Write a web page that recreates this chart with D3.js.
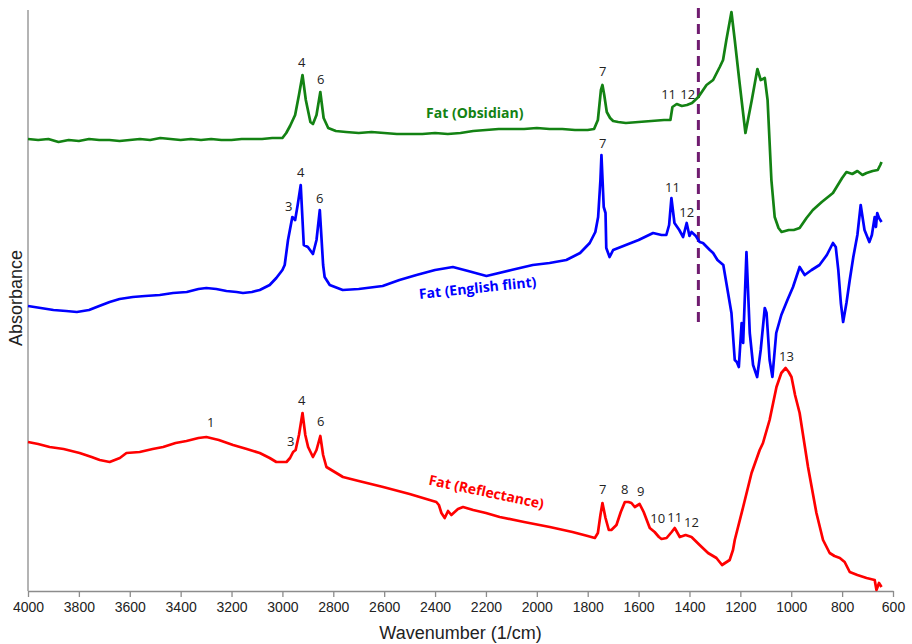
<!DOCTYPE html>
<html>
<head>
<meta charset="utf-8">
<script src="https://cdn.jsdelivr.net/npm/d3@7"></script>
<style>
  body { margin: 0; background: #fff; }
  svg { display: block; }
</style>
</head>
<body>
<div id="chart"></div>
<script>
// wavenumber (1/cm) / absorbance (offset, arbitrary units)
const obsidianWave = [4000,3960,3920,3880,3840,3800,3760,3720,3680,3640,3600,3560,3520,3480,3440,3400,3360,3320,3280,3240,3200,3160,3120,3080,3040,3000,2985,2970,2950,2935,2921,2908,2890,2880,2866,2851,2838,2820,2790,2750,2700,2650,2600,2550,2500,2450,2400,2350,2300,2250,2200,2150,2100,2050,2000,1950,1900,1850,1800,1775,1760,1748,1742,1735,1725,1712,1700,1680,1650,1600,1550,1500,1475,1467,1450,1430,1410,1390,1365,1333,1307,1281,1268,1255,1235,1222,1203,1180,1155,1133,1120,1104,1093,1078,1065,1050,1038,1010,990,967,940,915,880,836,800,783,760,740,720,704,680,660,650,645];
const obsidianAbs = [4.52,4.51,4.52,4.49,4.51,4.50,4.52,4.51,4.51,4.50,4.51,4.52,4.51,4.53,4.52,4.51,4.52,4.51,4.52,4.51,4.51,4.52,4.52,4.52,4.53,4.53,4.58,4.65,4.76,4.96,5.16,4.91,4.69,4.67,4.76,4.99,4.73,4.63,4.60,4.59,4.58,4.59,4.58,4.57,4.57,4.57,4.58,4.57,4.58,4.60,4.61,4.62,4.62,4.62,4.63,4.62,4.62,4.61,4.61,4.62,4.71,5.01,5.06,4.96,4.79,4.73,4.70,4.69,4.68,4.69,4.70,4.71,4.71,4.84,4.87,4.85,4.86,4.88,4.94,5.06,5.11,5.24,5.31,5.51,5.79,5.51,5.08,4.58,4.91,5.22,5.11,5.13,4.91,4.11,3.74,3.63,3.59,3.61,3.61,3.63,3.73,3.81,3.89,3.98,4.13,4.19,4.17,4.20,4.16,4.18,4.20,4.21,4.26,4.29];

const flintWave = [4000,3950,3900,3850,3808,3760,3720,3679,3640,3588,3540,3482,3430,3376,3330,3299,3260,3220,3180,3155,3120,3089,3050,3024,3000,2991,2978,2961,2950,2940,2928,2916,2900,2880,2866,2853,2840,2834,2814,2763,2700,2606,2540,2473,2400,2330,2270,2198,2100,2016,1950,1884,1830,1792,1770,1759,1750,1746,1737,1730,1727,1714,1700,1650,1600,1543,1510,1491,1480,1471,1459,1440,1425,1411,1400,1392,1375,1360,1347,1320,1307,1290,1267,1255,1235,1222,1214,1206,1195,1189,1176,1163,1150,1134,1120,1104,1097,1085,1074,1059,1039,1015,993,967,947,920,889,860,836,825,815,805,796,783,770,756,740,727,712,693,683,672,667,662,655,645];
const flintAbs = [2.85,2.83,2.81,2.80,2.79,2.81,2.85,2.89,2.92,2.94,2.95,2.96,2.98,2.99,3.02,3.03,3.02,3.00,2.99,2.98,2.99,3.01,3.06,3.13,3.21,3.26,3.51,3.74,3.71,3.86,4.06,3.46,3.44,3.37,3.51,3.81,3.26,3.14,3.06,3.01,3.02,3.05,3.11,3.16,3.21,3.24,3.20,3.15,3.21,3.26,3.28,3.31,3.38,3.48,3.59,3.74,4.11,4.36,3.84,3.78,3.43,3.34,3.41,3.46,3.51,3.58,3.56,3.56,3.66,3.93,3.68,3.61,3.54,3.68,3.55,3.59,3.55,3.49,3.48,3.41,3.38,3.31,3.26,3.08,2.78,2.31,2.29,2.24,2.68,2.48,3.39,2.58,2.26,2.14,2.41,2.83,2.78,2.31,2.14,2.58,2.76,2.91,3.04,3.24,3.16,3.21,3.26,3.36,3.48,3.44,3.21,2.88,2.69,2.88,3.11,3.34,3.56,3.86,3.61,3.49,3.56,3.74,3.64,3.78,3.73,3.69];

const reflWave = [4000,3960,3915,3860,3797,3750,3718,3679,3639,3613,3561,3510,3469,3420,3377,3330,3299,3250,3194,3140,3089,3050,3024,2984,2970,2958,2948,2935,2921,2910,2899,2880,2866,2851,2840,2827,2762,2700,2604,2500,2395,2385,2375,2362,2349,2336,2310,2290,2250,2200,2146,2050,1949,1860,1800,1772,1760,1750,1742,1730,1717,1707,1687,1670,1654,1640,1628,1615,1596,1580,1556,1537,1520,1510,1490,1470,1458,1438,1415,1392,1360,1327,1294,1272,1242,1229,1222,1189,1156,1124,1111,1085,1058,1039,1022,1010,999,985,967,934,901,875,849,830,809,790,770,740,704,672,665,655,645];
const reflAbs = [1.49,1.47,1.44,1.42,1.38,1.34,1.31,1.29,1.33,1.38,1.39,1.42,1.44,1.48,1.50,1.53,1.54,1.51,1.46,1.42,1.38,1.33,1.29,1.29,1.33,1.39,1.41,1.56,1.78,1.56,1.44,1.34,1.41,1.55,1.36,1.24,1.14,1.10,1.04,0.97,0.89,0.86,0.78,0.73,0.80,0.76,0.82,0.84,0.81,0.78,0.74,0.69,0.64,0.59,0.55,0.53,0.58,0.76,0.88,0.73,0.61,0.61,0.66,0.79,0.89,0.89,0.88,0.84,0.87,0.79,0.63,0.59,0.54,0.52,0.53,0.59,0.63,0.54,0.56,0.54,0.46,0.38,0.33,0.26,0.31,0.41,0.51,0.84,1.18,1.41,1.48,1.71,2.04,2.18,2.23,2.19,2.14,1.96,1.78,1.24,0.78,0.51,0.38,0.35,0.33,0.29,0.19,0.16,0.13,0.11,0.01,0.08,0.04];

const xTicks = [4000,3800,3600,3400,3200,3000,2800,2600,2400,2200,2000,1800,1600,1400,1200,1000,800,600];

// peak number labels: text, wavenumber, absorbance
const peakLabels = [
  ["4",2924,5.29],["6",2849,5.12],["7",1741,5.20],["11",1482,4.97],["12",1407,4.97],
  ["3",2975,3.85],["4",2928,4.19],["6",2853,3.93],["7",1741,4.48],["11",1467,4.04],["12",1411,3.79],
  ["1",3282,1.69],["3",2967,1.50],["4",2924,1.91],["6",2849,1.70],["7",1741,1.02],["8",1655,1.02],
  ["9",1592,1.00],["10",1525,0.73],["11",1458,0.74],["12",1392,0.69],["13",1019,2.35]
];

const seriesNames = ["Fat (Obsidian)", "Fat (English flint)", "Fat (Reflectance)"];
const seriesColors = ["#138213", "#0000ff", "#ff0000"];
// name label anchors: wavenumber, absorbance, rotation
const nameWave = [2244, 2233, 2198];
const nameAbs = [4.78, 3.03, 0.99];
const nameRot = [0, -6, 12];

const markerWave = 1365;
const markerRange = [2.69, 5.83];

const W = 912, H = 644;
const margin = {top: 10, right: 19, bottom: 53, left: 28};

const svg = d3.select("#chart").append("svg")
  .attr("width", W).attr("height", H);

const x = d3.scaleLinear().domain([4000, 600]).range([margin.left, W - margin.right]);
const y = d3.scaleLinear().domain([0, 5.81]).range([H - margin.bottom, margin.top]);

// axes
const xAxis = svg.append("g")
  .attr("transform", "translate(0," + (H - margin.bottom) + ")")
  .call(d3.axisBottom(x).tickValues(xTicks).tickSizeOuter(0).tickSizeInner(6).tickPadding(5).tickFormat(d3.format("d")));
xAxis.select(".domain").attr("stroke", "#8c8c8c").attr("stroke-width", 1.3);
xAxis.selectAll(".tick line").attr("stroke", "#8c8c8c").attr("stroke-width", 1.3);
xAxis.selectAll(".tick text")
  .attr("fill", "#222")
  .style("font-family", "'Liberation Sans', Arial, sans-serif")
  .style("font-size", "14px");

svg.append("line")
  .attr("x1", margin.left).attr("x2", margin.left)
  .attr("y1", margin.top).attr("y2", H - margin.bottom)
  .attr("stroke", "#8c8c8c").attr("stroke-width", 1.3);

svg.append("text")
  .attr("x", (margin.left + W - margin.right) / 2)
  .attr("y", 639)
  .attr("text-anchor", "middle")
  .style("font-family", "'Liberation Sans', Arial, sans-serif")
  .style("font-size", "18px")
  .attr("fill", "#222")
  .text("Wavenumber (1/cm)");

svg.append("text")
  .attr("transform", "translate(22,298) rotate(-90)")
  .attr("text-anchor", "middle")
  .style("font-family", "'Liberation Sans', Arial, sans-serif")
  .style("font-size", "18px")
  .attr("fill", "#222")
  .text("Absorbance");

// dashed marker
svg.append("line")
  .attr("x1", x(markerWave)).attr("x2", x(markerWave))
  .attr("y1", y(markerRange[1])).attr("y2", y(markerRange[0]))
  .attr("stroke", "#701c70").attr("stroke-width", 3)
  .attr("stroke-dasharray", "10,6");

// spectra
const line = d3.line().x(d => x(d[0])).y(d => y(d[1]));
const series = [
  d3.zip(obsidianWave, obsidianAbs),
  d3.zip(flintWave, flintAbs),
  d3.zip(reflWave, reflAbs)
];
series.forEach((pts, i) => {
  svg.append("path")
    .datum(pts)
    .attr("fill", "none")
    .attr("stroke", seriesColors[i])
    .attr("stroke-width", 2.7)
    .attr("stroke-linejoin", "round")
    .attr("d", line);
});

// series names
seriesNames.forEach((name, i) => {
  svg.append("text")
    .attr("transform", "translate(" + x(nameWave[i]) + "," + y(nameAbs[i]) + ") rotate(" + nameRot[i] + ")")
    .attr("text-anchor", "middle")
    .attr("dy", "0.35em")
    .style("font-family", "'Open Sans', sans-serif")
    .style("font-weight", "bold")
    .style("font-size", "14px")
    .attr("fill", seriesColors[i])
    .text(name);
});

// peak numbers
svg.selectAll(".peak")
  .data(peakLabels)
  .enter().append("text")
  .attr("class", "peak")
  .attr("x", d => x(d[1]))
  .attr("y", d => y(d[2]))
  .attr("dy", "0.35em")
  .attr("text-anchor", "middle")
  .style("font-family", "'Open Sans', sans-serif")
  .style("font-size", "13px")
  .attr("fill", "#222")
  .text(d => d[0]);
</script>
</body>
</html>
